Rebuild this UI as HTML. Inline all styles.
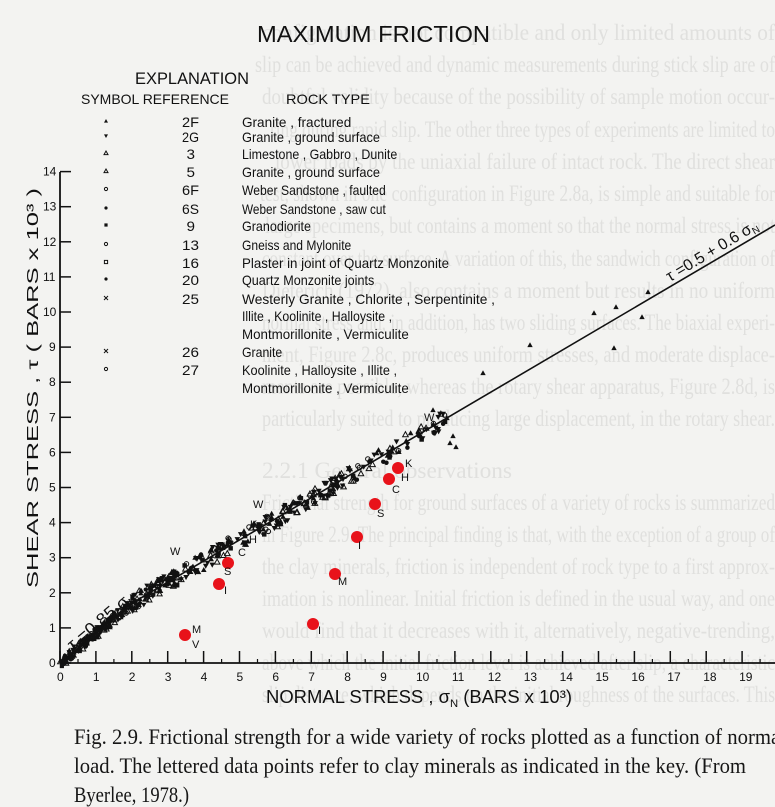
<!DOCTYPE html>
<html><head><meta charset="utf-8"><style>
html,body{margin:0;padding:0;background:#f3f3f1;}
svg{display:block;}
.n{font-family:"Liberation Sans Narrow","Liberation Sans",sans-serif;fill:#111;}
.g{font-family:"Liberation Serif",serif;fill:#e0e0de;font-size:23px;}
.c{font-family:"Liberation Serif",serif;fill:#161616;font-size:22px;}
</style></head><body>
<svg id="s" width="775" height="807" viewBox="0 0 775 807" xmlns="http://www.w3.org/2000/svg">
<rect width="775" height="807" fill="#f3f3f1"/>
<g class="g">
<text x="262" y="40" textLength="513">configuration is not compatible and only limited amounts of</text>
<text x="255" y="72" textLength="520">slip can be achieved and dynamic measurements during stick slip are of</text>
<text x="262" y="104" textLength="513">doubtful validity because of the possibility of sample motion occur-</text>
<text x="270" y="137" textLength="505">ring during rapid slip. The other three types of experiments are limited to</text>
<text x="275" y="169" textLength="500">lower loads by the uniaxial failure of intact rock. The direct shear</text>
<text x="260" y="201" textLength="515">test, shown in one configuration in Figure 2.8a, is simple and suitable for</text>
<text x="265" y="233" textLength="510">large specimens, but contains a moment so that the normal stress is not</text>
<text x="262" y="266" textLength="513">constant over the surface. A variation of this, the sandwich configuration of</text>
<text x="262" y="298" textLength="513">Dieterich (1972), also contains a moment but results in no uniform</text>
<text x="262" y="330" textLength="513">normal stress and, in addition, has two sliding surfaces. The biaxial experi-</text>
<text x="262" y="362" textLength="513">ment, Figure 2.8c, produces uniform stresses, and moderate displace-</text>
<text x="262" y="394" textLength="513">ments are possible, whereas the rotary shear apparatus, Figure 2.8d, is</text>
<text x="262" y="426" textLength="513">particularly suited to producing large displacement, in the rotary shear.</text>
<text x="262" y="478" textLength="250">2.2.1 General observations</text>
<text x="262" y="510" textLength="513">Frictional strength for ground surfaces of a variety of rocks is summarized</text>
<text x="262" y="542" textLength="513">in Figure 2.9. The principal finding is that, with the exception of a group of</text>
<text x="262" y="574" textLength="513">the clay minerals, friction is independent of rock type to a first approx-</text>
<text x="262" y="606" textLength="513">imation is nonlinear. Initial friction is defined in the usual way, and one</text>
<text x="262" y="638" textLength="513">would find that it decreases with it, alternatively, negative-trending,</text>
<text x="262" y="670" textLength="513">above which the initial friction level is achieved after slip, a characteristic</text>
<text x="262" y="702" textLength="513">slip distance, which depends on the initial roughness of the surfaces. This</text>
</g>
<text class="n" x="257" y="42" font-size="23" textLength="233">MAXIMUM  FRICTION</text>
<text class="n" x="135" y="84" font-size="17" textLength="114">EXPLANATION</text>
<text class="n" x="81" y="104" font-size="14" textLength="148">SYMBOL  REFERENCE</text>
<text class="n" x="286" y="104" font-size="14" textLength="84">ROCK  TYPE</text>
<g id="leg" class="n" font-size="14"></g>
<g stroke="#111" stroke-width="1.8" fill="none">
<line x1="60" y1="663" x2="775" y2="663"/>
<line x1="60" y1="663" x2="60" y2="172"/>
</g>
<g id="ax" class="n" font-size="12"></g>
<text class="n" font-size="16" transform="translate(38,588) rotate(-90)" textLength="400">SHEAR  STRESS , τ  ( BARS x 10³ )</text>
<text class="n" x="266" y="703" font-size="18" textLength="306">NORMAL  STRESS , σ<tspan font-size="11" dy="4">N</tspan><tspan dy="-4"> (BARS x 10³)</tspan></text>
<g stroke="#111" stroke-width="1.6">
<line x1="60" y1="663" x2="131.8" y2="603.3"/>
<line x1="131.8" y1="603.3" x2="775" y2="225"/>
</g>
<g id="pts"></g>
<text class="n" font-size="17" transform="translate(73,651) rotate(-40)" textLength="82">τ =0.85 σ<tspan font-size="10" dy="3">N</tspan></text>
<text class="n" font-size="16" transform="translate(670,282) rotate(-31)" textLength="104">τ =0.5 + 0.6 σ<tspan font-size="10" dy="3">N</tspan></text>
<g fill="#e8121a">
<circle cx="185" cy="635" r="6"/><circle cx="219" cy="584" r="6"/><circle cx="228" cy="563" r="6"/>
<circle cx="313" cy="624" r="6"/><circle cx="335" cy="574" r="6"/><circle cx="357" cy="537" r="6"/>
<circle cx="375" cy="504" r="6"/><circle cx="389" cy="479" r="6"/><circle cx="398" cy="468" r="6"/>
</g>
<g class="n" font-size="11">
<text x="192" y="633">M</text><text x="192" y="648">V</text><text x="224" y="594">I</text><text x="224" y="575">S</text>
<text x="318" y="634">I</text><text x="338" y="585">M</text><text x="358" y="549">I</text><text x="377" y="517">S</text>
<text x="392" y="493">C</text><text x="405" y="467">K</text><text x="401" y="481">H</text>
<text x="170" y="555">W</text><text x="253" y="508">W</text><text x="250" y="528">K</text><text x="249" y="543">H</text><text x="238" y="556">C</text><text x="424" y="421">W</text>
</g>
<text class="c" x="74" y="744" textLength="712">Fig. 2.9. Frictional strength for a wide variety of rocks plotted as a function of normal</text>
<text class="c" x="74" y="773" textLength="672">load. The lettered data points refer to clay minerals as indicated in the key. (From</text>
<text class="c" x="74" y="802" textLength="115">Byerlee, 1978.)</text>
</svg>
<script>
var NS="http://www.w3.org/2000/svg";
function el(p,t,a,txt){var e=document.createElementNS(NS,t);for(var k in a)e.setAttribute(k,a[k]);if(txt!=null)e.textContent=txt;p.appendChild(e);return e;}
function sym(p,k,x,y,s){
 s=s||2.6;
 if(k==0)el(p,"path",{d:"M"+x+" "+(y-s)+"L"+(x+s)+" "+(y+s*0.8)+"L"+(x-s)+" "+(y+s*0.8)+"Z",fill:"#111"});
 else if(k==1)el(p,"path",{d:"M"+x+" "+(y+s)+"L"+(x+s)+" "+(y-s*0.8)+"L"+(x-s)+" "+(y-s*0.8)+"Z",fill:"#111"});
 else if(k==2)el(p,"path",{d:"M"+x+" "+(y-s)+"L"+(x+s)+" "+(y+s*0.8)+"L"+(x-s)+" "+(y+s*0.8)+"Z",fill:"none",stroke:"#111","stroke-width":1});
 else if(k==3)el(p,"rect",{x:x-s*0.8,y:y-s*0.8,width:s*1.6,height:s*1.6,fill:"#111"});
 else if(k==4)el(p,"circle",{cx:x,cy:y,r:s*0.8,fill:"#111"});
 else if(k==5)el(p,"circle",{cx:x,cy:y,r:s*0.8,fill:"none",stroke:"#111","stroke-width":1});
 else if(k==6)el(p,"path",{d:"M"+(x-s)+" "+(y-s)+"L"+(x+s)+" "+(y+s)+"M"+(x+s)+" "+(y-s)+"L"+(x-s)+" "+(y+s),stroke:"#111","stroke-width":1});
 else el(p,"rect",{x:x-s*0.8,y:y-s*0.8,width:s*1.6,height:s*1.6,fill:"none",stroke:"#111","stroke-width":1});
}
var L=document.getElementById("leg");
var rows=[[0,"2F","Granite , fractured",125],[1,"2G","Granite , ground surface",140],[2,"3","Limestone , Gabbro , Dunite",157],[2,"5","Granite , ground surface",175],[5,"6F","Weber Sandstone , faulted",193],[4,"6S","Weber Sandstone , saw cut",212],[3,"9","Granodiorite",229],[5,"13","Gneiss and Mylonite",248],[7,"16","Plaster in joint of Quartz Monzonite",266],[4,"20","Quartz Monzonite joints",283],[6,"25","Westerly Granite , Chlorite , Serpentinite ,",302],[-1,"","Illite , Koolinite , Halloysite ,",319],[-1,"","Montmorillonite , Vermiculite",337],[6,"26","Granite",355],[5,"27","Koolinite , Halloysite , Illite ,",373],[-1,"","Montmorillonite , Vermiculite",391]];
var W={"Illite , Koolinite , Halloysite ,":150,"Koolinite , Halloysite , Illite ,":155};
rows.forEach(function(r){
 if(r[0]>=0)sym(L,r[0],106,r[3]-4,2);
 if(r[1])el(L,"text",{x:191-r[1].length*4.5,y:r[3]+2,textLength:r[1].length*8.5},r[1]);
 el(L,"text",{x:242,y:r[3]+2,textLength:W[r[2]]||r[2].length*5.75},r[2]);
});
var A=document.getElementById("ax");
function X(v){return 60+35.9*v;} function Y(v){return 663-35.1*v;}
for(var i=0;i<=20;i++){var x=X(i);el(A,"line",{x1:x,y1:663,x2:x,y2:651,stroke:"#111","stroke-width":1.5});
 if(i<20)el(A,"line",{x1:x+18,y1:663,x2:x+18,y2:659,stroke:"#111","stroke-width":1.2});
 el(A,"text",{x:x-3,y:681},""+i);}
for(var j=0;j<=14;j++){var y=Y(j);el(A,"line",{x1:60,y1:y,x2:71,y2:y,stroke:"#111","stroke-width":1.5});
 el(A,"text",{x:j>9?43:49,y:y+4},""+j);}
var P=document.getElementById("pts");var seed=7;function rnd(){seed=(seed*16807)%2147483647;return seed/2147483647;}
function f(s){return s<2?0.85*s:0.5+0.6*s;}
for(var n=0;n<520;n++){
 var u=rnd();var s=u<0.55?rnd()*3.3:(u<0.88?3+rnd()*5:8+rnd()*3);
 var t=f(s)+(rnd()-0.5)*(s<2?0.3:0.5);
 var k=[0,1,2,3,4,5,1,0,2,1][Math.floor(rnd()*10)];
 sym(P,k,X(s),Y(t),s<3?2.6:2.8);
}
var ex=[[594,313],[616,307],[648,292],[642,317],[614,348],[530,345],[483,373],[450,443],[456,447],[447,418],[453,436],[433,410]];
ex.forEach(function(p){sym(P,0,p[0],p[1],2.7);});
document.querySelectorAll("text[textLength]").forEach(function(t){t.setAttribute("lengthAdjust","spacingAndGlyphs");});
</script>
</body></html>
